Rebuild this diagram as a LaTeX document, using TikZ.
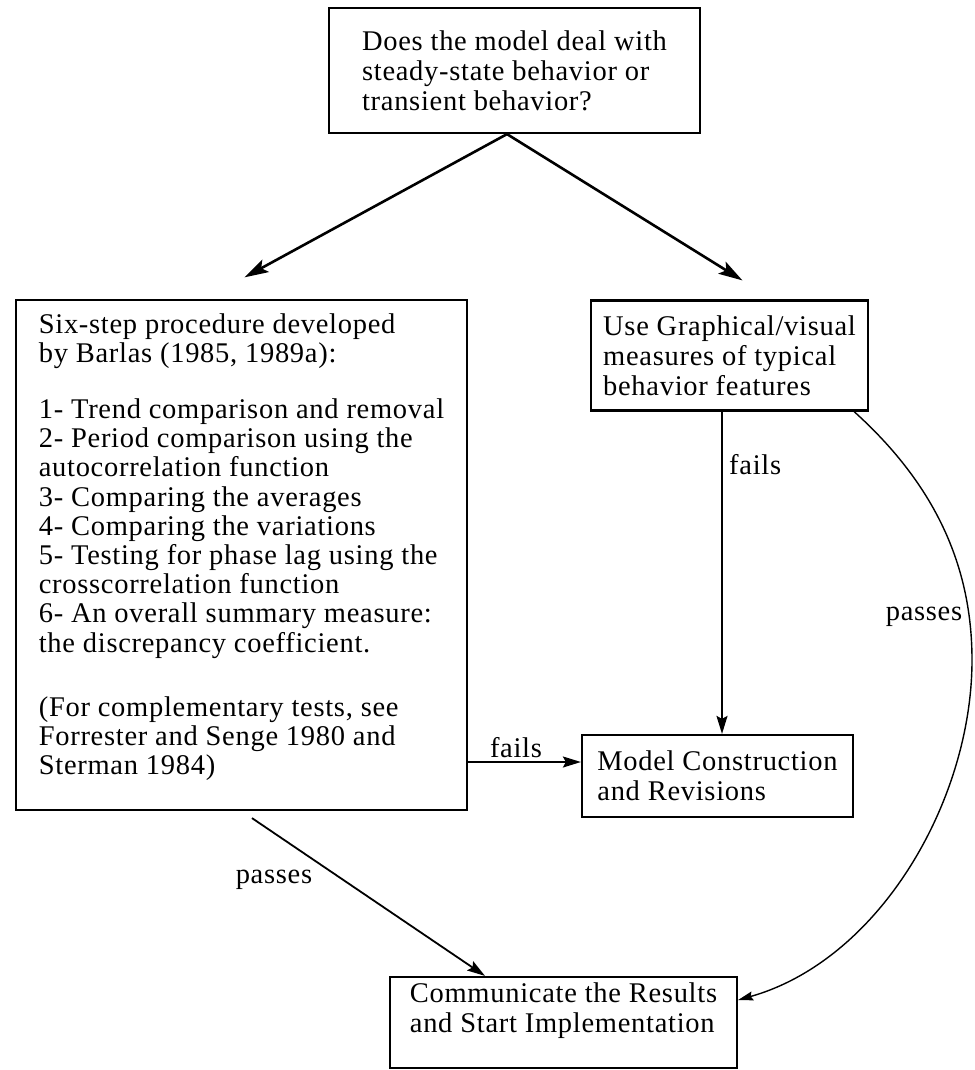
\documentclass[tikz,border=0pt]{standalone}
\usepackage{fontspec}
\setmainfont{Liberation Serif}[LetterSpace=2.5]
\usetikzlibrary{arrows.meta,calc}
\begin{document}
\begin{tikzpicture}[x=1pt,y=-1pt,
  box/.style={draw=black,line width=2.2pt,rectangle,align=left,inner sep=0pt,
    font=\fontsize{28.5}{30}\selectfont},
  lbl/.style={font=\fontsize{28.5}{30}\selectfont,inner sep=0pt},
  bigarr/.style={line width=2.6pt,-{Stealth[length=24pt,width=14pt,inset=5pt]}},
  thinarr/.style={line width=1.8pt,-{Stealth[length=18pt,width=11pt,inset=3pt]}}]
\useasboundingbox (0,0) rectangle (974,1070);
\node[box,minimum width=371pt,minimum height=125pt] (q) at (514.5,70.5)
  {Does the model deal with\\steady-state behavior or\\transient behavior?};
\node[box,minimum width=451pt,minimum height=510pt,
      font=\fontsize{28.5}{29.2}\selectfont] (six) at (241.5,555)
  {Six-step procedure developed\\by Barlas (1985, 1989a):\\[27pt]
   1- Trend comparison and removal\\
   2- Period comparison using the\\
   autocorrelation function\\
   3- Comparing the averages\\
   4- Comparing the variations\\
   5- Testing for phase lag using the\\
   crosscorrelation function\\
   6- An overall summary measure:\\
   the discrepancy coefficient.\\[35pt]
   (For complementary tests, see\\
   Forrester and Senge 1980 and\\
   Sterman 1984)\rule[-22pt]{0pt}{0pt}};
\node[box,minimum width=277pt,minimum height=110pt] (vis) at (729.5,355.5)
  {Use Graphical/visual\\measures of typical\\behavior features};
\node[box,minimum width=271pt,minimum height=82pt] (mc) at (717.5,776)
  {Model Construction\\and Revisions};
\node[box,minimum width=347pt,minimum height=91pt] (com) at (563.5,1022.5)
  {Communicate the Results\\and Start Implementation\rule[-30pt]{0pt}{0pt}};
\coordinate (apex) at ([xshift=-7.5pt]q.south);
\draw[bigarr,shorten >=45pt] (apex) -- ([xshift=-36.5pt]six.north);
\draw[bigarr,shorten >=36pt] (apex) -- ([xshift=43.5pt]vis.north);
\draw[thinarr] ([xshift=-7.5pt]vis.south) -- ([xshift=4.5pt]mc.north);
\node[lbl,anchor=west] (f1) at (729,465) {fails};
\coordinate (fc) at ([yshift=14pt]mc.west);
\draw[thinarr] (six.east |- fc) -- (fc);
\node[lbl] (f2) at (516,748) {fails};
\draw[thinarr] ([xshift=10.5pt,yshift=-7pt]six.south) -- ([xshift=-78.5pt]com.north);
\node[lbl] (p1) at (274,880) {passes};
\draw[line width=1.4pt,-{Stealth[length=15pt,width=9pt,inset=2pt]}]
  ([xshift=-15pt]vis.south east) .. controls (930,480) and (972,560) .. (972,660)
  .. controls (972,800) and (880,960) .. ([yshift=22.5pt]com.east);
\node[lbl] (p2) at (924,617) {passes};
\end{tikzpicture}
\end{document}
